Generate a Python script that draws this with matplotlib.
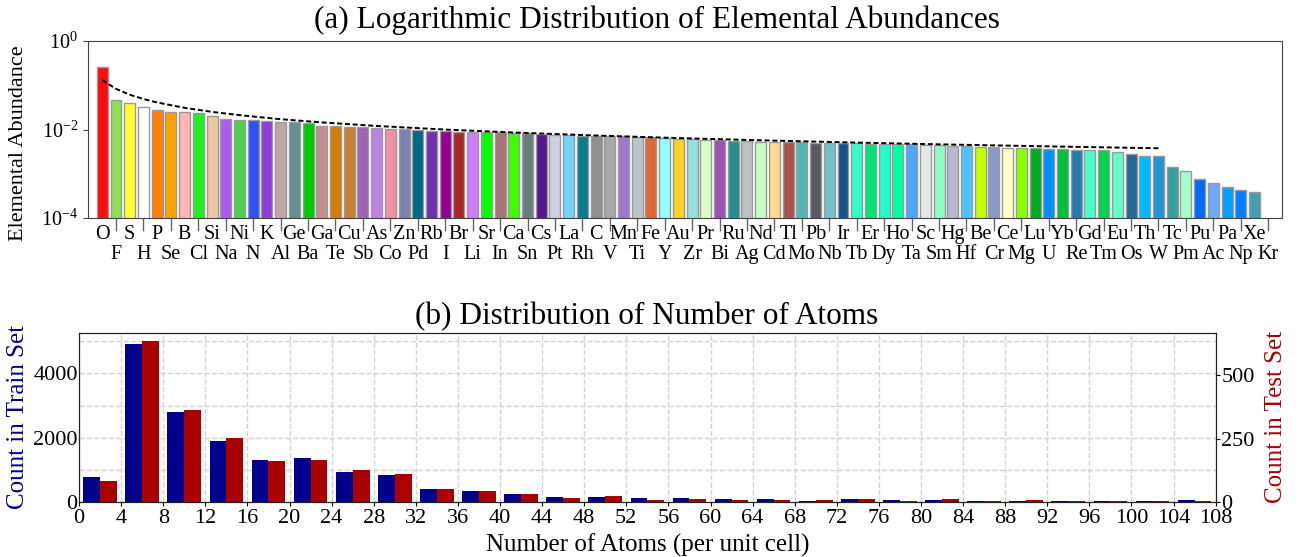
import matplotlib

matplotlib.use("Agg")
import matplotlib.pyplot as plt
import numpy as np
from matplotlib.ticker import MultipleLocator, NullLocator

plt.rcParams["font.family"] = ["Liberation Serif", "DejaVu Serif"]
plt.rcParams["mathtext.fontset"] = "custom"
plt.rcParams["mathtext.rm"] = "Liberation Serif"

# (a) elements sorted by abundance
elements = [
    "O", "F", "S", "H", "P", "Se", "B", "Cl", "Si", "Na",
    "Ni", "N", "K", "Al", "Ge", "Ba", "Ga", "Te", "Cu", "Sb",
    "As", "Co", "Zn", "Pd", "Rb", "I", "Br", "Li", "Sr", "In",
    "Ca", "Sn", "Cs", "Pt", "La", "Rh", "C", "V", "Mn", "Ti",
    "Fe", "Y", "Au", "Zr", "Pr", "Bi", "Ru", "Ag", "Nd", "Cd",
    "Tl", "Mo", "Pb", "Nb", "Ir", "Tb", "Er", "Dy", "Ho", "Ta",
    "Sc", "Sm", "Hg", "Hf", "Be", "Cr", "Ce", "Mg", "Lu", "U",
    "Yb", "Re", "Gd", "Tm", "Eu", "Os", "Th", "W", "Tc", "Pm",
    "Pu", "Ac", "Pa", "Np", "Xe", "Kr",
]
abundance = [
    0.254, 0.0464, 0.0404, 0.0322, 0.0276, 0.0249, 0.0244, 0.0232, 0.0205, 0.0173,
    0.0164, 0.0161, 0.0158, 0.0150, 0.0148, 0.0138, 0.0122, 0.0118, 0.0116, 0.0114,
    0.0106, 0.0103, 0.0102, 0.00975, 0.00925, 0.0091, 0.0088, 0.0088, 0.0087, 0.0086,
    0.00847, 0.0084, 0.00805, 0.0075, 0.0074, 0.0073, 0.0073, 0.0072, 0.0071, 0.0069,
    0.00667, 0.00644, 0.0061, 0.0060, 0.0058, 0.0058, 0.0056, 0.0054, 0.0053, 0.0053,
    0.0052, 0.0051, 0.0050, 0.0050, 0.0049, 0.0049, 0.0048, 0.0047, 0.0046, 0.0046,
    0.0045, 0.0044, 0.0042, 0.0042, 0.0041, 0.0040, 0.0039, 0.0038, 0.0038, 0.0036,
    0.0036, 0.00345, 0.0034, 0.0034, 0.00305, 0.00275, 0.0025, 0.0025, 0.00142, 0.00114,
    0.00075, 0.00062, 0.0005, 0.00043, 0.00038, 0.00008,
]
# power-law trend over the head of the distribution
trend_idx = [0, 1, 2, 3, 4, 6, 8, 10, 13, 16, 20, 25, 30, 36, 42, 48, 55, 62, 70, 77]
trend_val = [
    0.131, 0.0827, 0.0612, 0.0489, 0.0408, 0.0309, 0.0250, 0.0211, 0.0171, 0.01446,
    0.01203, 0.00997, 0.00855, 0.00731, 0.00640, 0.00570, 0.00506, 0.00456, 0.00410, 0.00377,
]

# (b) histogram of atoms per unit cell, 4-wide bins
bin_left = list(range(0, 108, 4))
train_counts = [
    777, 4922, 2798, 1896, 1306, 1378, 943, 839, 404, 342,
    249, 155, 155, 124, 124, 93, 93, 31, 93, 62,
    62, 31, 31, 31, 31, 31, 62,
]
test_counts = [
    83, 634, 362, 253, 161, 165, 126, 112, 51, 43,
    31, 16, 24, 8, 12, 8, 8, 8, 12, 4,
    12, 4, 8, 4, 3, 3, 3,
]

JMOL = {
    "H": "#FFFFFF", "Li": "#CC80FF", "Be": "#C2FF00", "B": "#FFB5B5", "C": "#909090",
    "N": "#3050F8", "O": "#FF0D0D", "F": "#90E050", "Na": "#AB5CF2", "Mg": "#8AFF00",
    "Al": "#BFA6A6", "Si": "#F0C8A0", "P": "#FF8000", "S": "#FFFF30", "Cl": "#1FF01F",
    "K": "#8F40D4", "Ca": "#3DFF00", "Sc": "#E6E6E6", "Ti": "#BFC2C7", "V": "#A6A6AB",
    "Cr": "#8A99C7", "Mn": "#9C7AC7", "Fe": "#E06633", "Co": "#F090A0", "Ni": "#50D050",
    "Cu": "#C88033", "Zn": "#7D80B0", "Ga": "#C28F8F", "Ge": "#668F8F", "As": "#BD80E3",
    "Se": "#FFA100", "Br": "#A62929", "Kr": "#5CB8D1", "Rb": "#702EB0", "Sr": "#00FF00",
    "Y": "#94FFFF", "Zr": "#94E0E0", "Nb": "#73C2C9", "Mo": "#54B5B5", "Tc": "#3B9E9E",
    "Ru": "#248F8F", "Rh": "#0A7D8C", "Pd": "#006985", "Ag": "#C0C0C0", "Cd": "#FFD98F",
    "In": "#A67573", "Sn": "#668080", "Sb": "#9E63B5", "Te": "#D47A00", "I": "#940094",
    "Xe": "#429EB0", "Cs": "#57178F", "Ba": "#00C900", "La": "#70D4FF", "Ce": "#FFFFC7",
    "Pr": "#D9FFC7", "Nd": "#C7FFC7", "Pm": "#A3FFC7", "Sm": "#8FFFC7", "Eu": "#61FFC7",
    "Gd": "#45FFC7", "Tb": "#30FFC7", "Dy": "#1FFFC7", "Ho": "#00FF9C", "Er": "#00E675",
    "Tm": "#00D452", "Yb": "#00BF38", "Lu": "#00AB24", "Hf": "#4DC2FF", "Ta": "#4DA6FF",
    "W": "#2194D6", "Re": "#267DAB", "Os": "#266696", "Ir": "#175487", "Pt": "#D0D0E0",
    "Au": "#FFD123", "Hg": "#B8B8D0", "Tl": "#A6544D", "Pb": "#575961", "Bi": "#9E4FB5",
    "Th": "#00BAFF", "Pa": "#00A1FF", "U": "#008FFF", "Np": "#0080FF", "Pu": "#006BFF",
    "Ac": "#70ABFA",
}
TRAIN_COLOR = "#00008B"
TEST_COLOR = "#AA0000"


def plot_abundance(ax):
    x = np.arange(len(elements))
    ax.bar(x, abundance, width=0.8, color=[JMOL[e] for e in elements],
           edgecolor="#9a9a9a", linewidth=1.0)
    ax.plot(trend_idx, trend_val, color="black", lw=1.4, ls=(0, (2.6, 1.4)))
    ax.set_yscale("log")
    ax.set_ylim(1e-4, 1)
    ax.set_xlim(-1.04, 86)
    ax.set_yticks([1e-4, 1e-2, 1])
    ax.yaxis.set_minor_locator(NullLocator())

    # alternate labels on two rows, odd ones pushed down on long ticks
    ax.set_xticks(x[::2], labels=elements[::2])
    ax.set_xticks(x[1::2], labels=elements[1::2], minor=True)
    ax.tick_params(axis="x", which="major", length=0, pad=5, labelsize=14.5)
    ax.tick_params(axis="x", which="minor", length=9, width=1, color="#666666",
                   pad=10.5, labelsize=14.5)
    ax.tick_params(axis="y", labelsize=14.5, length=3.5, color="#444444")
    for s in ax.spines.values():
        s.set_color("#444444")
    ax.set_ylabel("Elemental Abundance", fontsize=16)
    ax.yaxis.set_label_coords(-0.050, 0.42)


def plot_atoms(ax, ax_test):
    left = np.array(bin_left)
    ax.bar(left + 0.4, train_counts, width=1.6, align="edge", color=TRAIN_COLOR)
    ax_test.bar(left + 2.0, test_counts, width=1.6, align="edge", color=TEST_COLOR)

    ax.set_xlim(0, 108)
    ax.set_ylim(0, 5265)
    ax_test.set_ylim(0, 667)
    ax.xaxis.set_major_locator(MultipleLocator(4))
    ax.yaxis.set_major_locator(MultipleLocator(2000))
    ax.yaxis.set_minor_locator(MultipleLocator(1000))
    ax_test.yaxis.set_major_locator(MultipleLocator(250))
    ax_test.yaxis.set_minor_locator(NullLocator())

    ax.set_axisbelow(True)
    ax.grid(True, which="both", axis="y", ls="--", color="#d3d3d3", lw=1)
    ax.grid(True, which="major", axis="x", ls="--", color="#d3d3d3", lw=1)

    ax.tick_params(axis="y", which="both", length=0, pad=1, labelsize=16)
    ax.tick_params(axis="x", length=3, pad=2, labelsize=16)
    ax_test.tick_params(axis="y", length=3, pad=1, labelsize=16)
    for a in (ax, ax_test):
        for s in a.spines.values():
            s.set_color("#222222")

    ax.set_xlabel("Number of Atoms (per unit cell)", fontsize=18, labelpad=4)
    ax.set_ylabel("Count in Train Set", fontsize=18, color=TRAIN_COLOR)
    ax_test.set_ylabel("Count in Test Set", fontsize=18, color=TEST_COLOR)
    ax.yaxis.set_label_coords(-0.044, 0.5)
    ax_test.yaxis.set_label_coords(1.043, 0.5)


def main():
    fig = plt.figure(figsize=(13.02, 5.57), dpi=100)
    ax_a = fig.add_axes([0.0676, 0.6086, 0.917, 0.3178])
    ax_b = fig.add_axes([0.0607, 0.0987, 0.873, 0.304])
    ax_b_test = ax_b.twinx()

    plot_abundance(ax_a)
    plot_atoms(ax_b, ax_b_test)

    fig.text(657 / 1302, 1 - 28 / 557, "(a) Logarithmic Distribution of Elemental Abundances",
             ha="center", va="baseline", fontsize=22.5)
    fig.text(647 / 1302, 1 - 324 / 557, "(b) Distribution of Number of Atoms",
             ha="center", va="baseline", fontsize=22.5)

    fig.savefig("out.png", dpi=100)


if __name__ == "__main__":
    main()
